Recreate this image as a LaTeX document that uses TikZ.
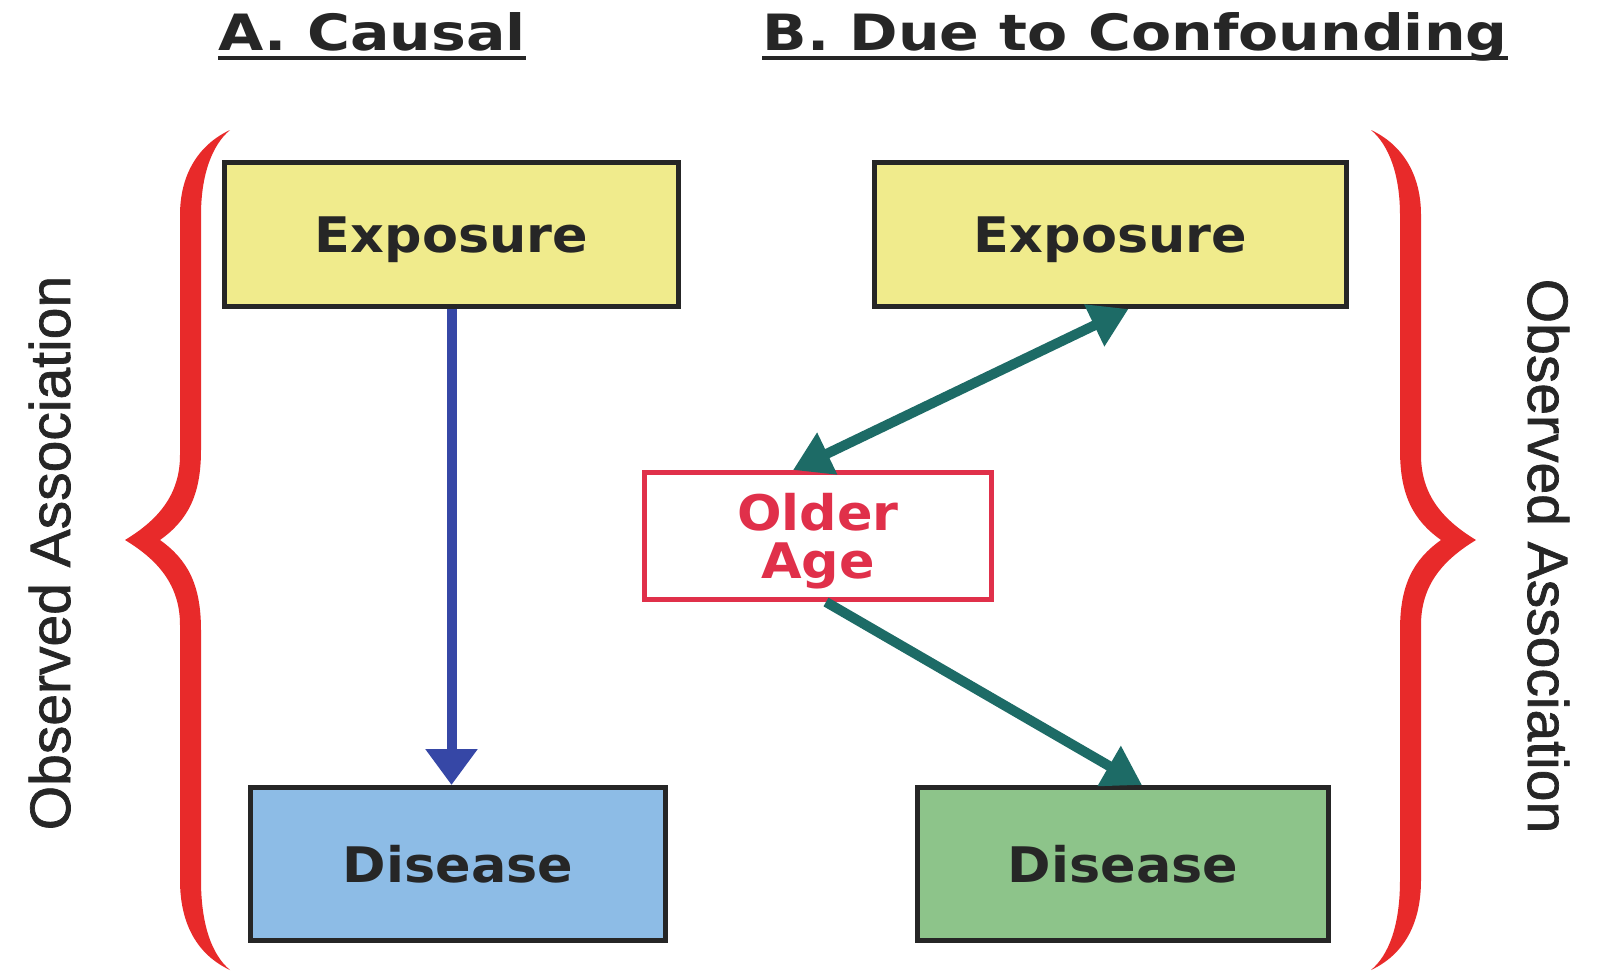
\documentclass[tikz,border=0pt]{standalone}
\usepackage{fontspec}
\usetikzlibrary{arrows.meta,calc}
\newfontfamily\boxfont[FakeStretch=1.07]{DejaVu Sans Bold}
\newfontfamily\ttlfont[FakeStretch=1.17]{DejaVu Sans Bold}
\newfontfamily\sidefont[FakeBold=1.2]{Liberation Sans}
\definecolor{yel}{HTML}{F0EB8C}
\definecolor{blu}{HTML}{8DBCE6}
\definecolor{grn}{HTML}{8DC48A}
\definecolor{bracered}{HTML}{E82A2A}
\definecolor{tealarr}{HTML}{1D6B66}
\definecolor{arrblue}{HTML}{3647A6}
\definecolor{agered}{HTML}{E0304A}
\definecolor{edgecol}{HTML}{262626}
\newcommand{\bracepath}{%
  (230,130) .. controls (198,145) and (180,175) .. (180,215) -- (180,455)
  .. controls (180,495) and (158,520) .. (125,540)
  .. controls (158,560) and (180,585) .. (180,625) -- (180,880)
  .. controls (180,925) and (198,955) .. (230,970)
  .. controls (212,955) and (201,925) .. (201,880) -- (201,630)
  .. controls (201,585) and (188,560) .. (160,540)
  .. controls (188,520) and (201,495) .. (201,450) -- (201,215)
  .. controls (201,175) and (212,145) .. (230,130) -- cycle}
\tikzset{thead/.tip={Triangle[length=38pt,width=44pt]},
         bhead/.tip={Triangle[length=36pt,width=50pt]}}
\begin{document}
\begin{tikzpicture}[x=1pt,y=-1pt,
  boxnode/.style={draw=edgecol, line width=5pt, inner sep=0pt,
    font=\boxfont\fontsize{49}{48}\selectfont, text=black!85, align=center, text depth=0pt},
  ttl/.style={inner sep=0pt, font=\ttlfont\fontsize{50}{50}\selectfont, text=black!85},
  side/.style={inner sep=0pt, font=\sidefont\fontsize{57}{57}\selectfont, text=black!85},
  tealline/.style={tealarr, line width=10pt}
]
\useasboundingbox (0,0) rectangle (1599,978);
\fill[white] (0,0) rectangle (1599,978);

% titles
\node[ttl, anchor=base] (tA) at (372,50) {A. Causal};
\draw[line width=3.5pt, black!85] ([yshift=-8pt]tA.base west) -- ([yshift=-8pt]tA.base east);
\node[ttl, anchor=base] (tB) at (1135,50) {B. Due to Confounding};
\draw[line width=3.5pt, black!85] ([yshift=-8pt]tB.base west) -- ([yshift=-8pt]tB.base east);

% side labels
\node[side, rotate=90, anchor=base] (oL) at (70,553) {Observed Association};
\node[side, rotate=-90, anchor=base] (oR) at (1528,556) {Observed Association};

% braces
\fill[bracered] \bracepath;
\begin{scope}[shift={(1601,0)}, xscale=-1]
\fill[bracered] \bracepath;
\end{scope}

% boxes
\node[boxnode, fill=yel, minimum width=454pt, minimum height=144pt] (ExpL) at (451.5,234.5) {Exposure};
\node[boxnode, fill=blu, minimum width=415pt, minimum height=153pt] (DisL) at (458,864) {Disease};
\node[boxnode, fill=yel, minimum width=472pt, minimum height=144pt] (ExpR) at (1110.5,234.5) {Exposure};
\node[boxnode, draw=agered, fill=white, text=agered, minimum width=347pt, minimum height=127pt] (Age) at (818,536) {Older\\Age};
\node[boxnode, fill=grn, minimum width=411pt, minimum height=153pt] (DisR) at (1123,864) {Disease};

% arrows
\draw[arrblue, line width=10pt, -bhead] (ExpL.south) -- (ExpL.south |- DisL.north);
\draw[tealline, thead-thead] ($(Age.north)+(-25,0)$) -- ($(ExpR.south)+(18,0)$);
\draw[tealline, -thead] ($(Age.south)+(8,0)$) -- ($(DisR.north)+(19,0)$);
\end{tikzpicture}
\end{document}
